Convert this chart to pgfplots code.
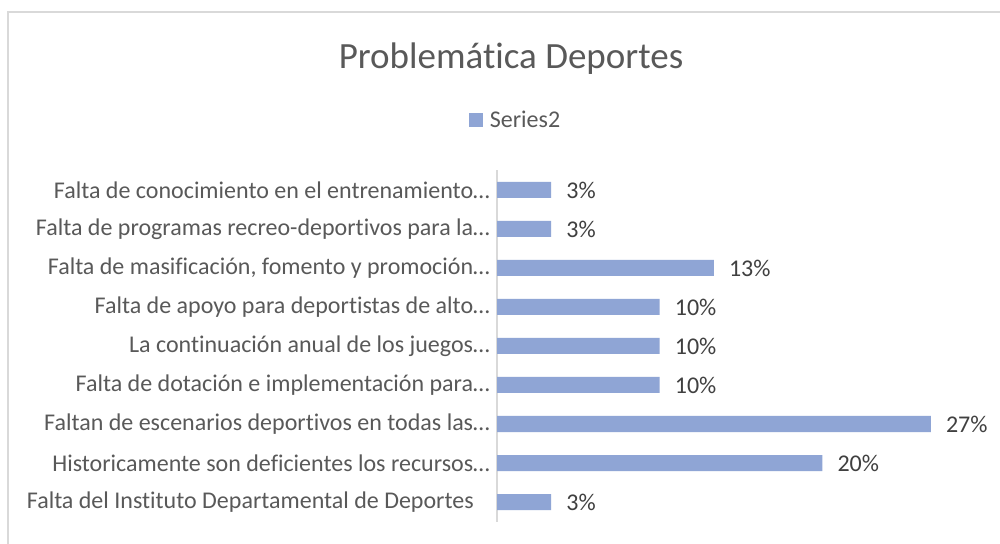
\documentclass[border=0pt]{standalone}
\usepackage{pgfplots}
\pgfplotsset{compat=1.18}
\usepackage{pgfplotstable}
\usepackage{fontspec}
\setmainfont{Carlito}[Ligatures={NoCommon}]
\definecolor{barblue}{HTML}{8FA5D5}
\definecolor{textgray}{HTML}{595959}
\definecolor{labgray}{HTML}{404040}
\definecolor{linegray}{HTML}{D9D9D9}
\pgfplotstableread{
y val lab
0 3.33 3
1 20 20
2 26.67 27
3 10 10
4 10 10
5 10 10
6 13.33 13
7 3.33 3
8 3.33 3
}\datatab
\begin{document}
\begin{tikzpicture}[x=1pt,y=1pt]
\useasboundingbox (0,0) rectangle (1000,543);
\clip (0,0) rectangle (1000,543);
\fill[white] (0,0) rectangle (1000,543);
\draw[linegray, line width=1.3pt] (8,-20) -- (8,531) -- (1020,531);
\node[font=\fontsize{37}{44}\selectfont, text=textgray, anchor=base] at (511,474) {Problemática Deportes};
\begin{axis}[
  at={(497pt,21.5pt)}, anchor=south west,
  scale only axis, width=488pt, height=351pt,
  xmin=0, xmax=30, ymin=-0.5, ymax=8.5,
  axis x line=none,
  axis y line*=left,
  axis line style={linegray, line width=1.3pt},
  ytick={0,...,8},
  yticklabels={Falta del Instituto Departamental de Deportes\kern16pt,
    Historicamente son deficientes los recursos…,
    Faltan de escenarios deportivos en todas las…,
    Falta de dotación e implementación para…,
    La continuación anual de los juegos…,
    Falta de apoyo para deportistas de alto…,
    Falta de masificación{,} fomento y promoción…,
    Falta de programas recreo-deportivos para la…,
    Falta de conocimiento en el entrenamiento…},
  major tick length=0pt,
  yticklabel style={font=\fontsize{24}{29}\selectfont, text=textgray, anchor=east, inner sep=0pt, xshift=-7pt},
  xbar, bar width=16pt,
  nodes near coords={\pgfplotspointmeta\%},
  point meta=explicit symbolic,
  every node near coord/.append style={font=\fontsize{24}{29}\selectfont, text=labgray, anchor=west, inner sep=0pt, xshift=15pt},
  legend style={at={(0.038,1.144)}, anchor=center, draw=none, fill=none, inner sep=0pt,
    font=\fontsize{24}{29}\selectfont, text=textgray,
    /tikz/every odd column/.append style={column sep=5pt}},
  legend image code/.code={\fill[barblue] (0pt,-7pt) rectangle (14pt,7pt);},
  clip=false,
]
\addplot[fill=barblue, draw=none] table[x=val, y=y, meta=lab] {\datatab};
\addlegendentry{Series2}
\end{axis}
\end{tikzpicture}
\end{document}
